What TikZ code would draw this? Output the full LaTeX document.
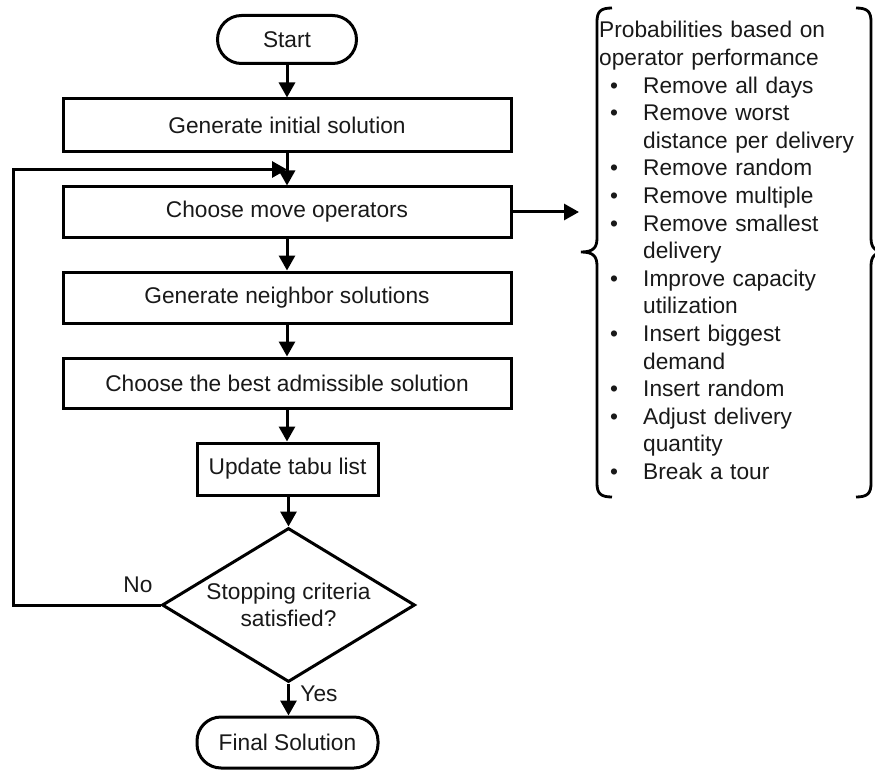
\documentclass[tikz,border=0pt]{standalone}
\usepackage{fontspec}
\setmainfont{Liberation Sans}
\usetikzlibrary{arrows.meta,shapes.geometric,calc}
\newcommand\bitem[1]{\makebox[44pt][l]{\hspace*{11pt}\textbullet}#1}
\newcommand\bcont[1]{\hspace*{44pt}#1}
\begin{document}
\begin{tikzpicture}[x=1pt,y=-1pt,
  every node/.style={font=\fontsize{22.7}{27.6}\selectfont, text=black!90},
  arr/.style={line width=3pt, draw=black, -{Triangle[length=15pt,width=16pt]}},
  procbox/.style={draw=black, line width=3pt, rectangle, inner sep=0pt, fill=white},
  term/.style={draw=black, line width=3pt, rectangle, rounded corners=24pt, inner sep=0pt, fill=white},
  decide/.style={draw=black, line width=3pt, diamond, aspect=1.64, inner sep=-12pt, minimum width=253pt, minimum height=154pt, align=center, fill=white},
  bracepath/.style={line width=2.8pt, draw=black},
  lbl/.style={font=\fontsize{22.7}{27.6}\selectfont}
]
\useasboundingbox (0,0) rectangle (875,770);

\node[term, minimum width=139pt, minimum height=48pt] (start) at (287,39.5) {Start};
\node[procbox, minimum width=448pt, minimum height=53pt] (gen) at (287,125.5) {Generate initial solution};
\node[procbox, minimum width=448pt, minimum height=50pt] (choose) at (287,212) {Choose move operators};
\node[procbox, minimum width=448pt, minimum height=51pt] (neigh) at (287,297.5) {Generate neighbor solutions};
\node[procbox, minimum width=448pt, minimum height=50pt] (best) at (287,383) {Choose the best admissible solution};
\node[procbox, minimum width=181pt, minimum height=52pt] (tabu) at (287.5,469) {Update tabu list};
\node[decide] (stop) at (288.5,605) {Stopping criteria\\satisfied?};
\node[term, minimum width=181pt, minimum height=51pt] (final) at (287.5,742.5) {Final Solution};

\coordinate (join) at ($(gen.south)!0.5!(choose.north)$);
\coordinate (loopbl) at (13,605);
\coordinate (looptl) at (13,169.5);
\coordinate (opsarrow) at (579,212);

\draw[arr] (start) -- (gen);
\draw[arr] (gen) -- (choose);
\draw[arr] (choose) -- (neigh);
\draw[arr] (neigh) -- (best);
\draw[arr] (best.south) -- (best.south |- tabu.north);
\draw[arr] (tabu.south -| stop.north) -- (stop.north);
\draw[arr] (stop.south) -- (stop.south |- final.north);
\draw[arr] (stop.west) -- (loopbl) -- (looptl) -- (join);
\draw[arr] (choose.east) -- (opsarrow);

\node[lbl] (no) at (138,585) {No};
\node[lbl] (yes) at (319,694) {Yes};

% braces
\draw[bracepath] (612,8) .. controls (600,8) and (597,12) .. (597,22) -- (597,238)
  .. controls (597,248) and (593,252) .. (581,252) .. controls (593,252) and (597,256) .. (597,266)
  -- (597,483) .. controls (597,493) and (600,497) .. (612,497);
\draw[bracepath] (856,8) .. controls (868,8) and (871,12) .. (871,22) -- (871,238)
  .. controls (871,248) and (875,252) .. (887,252) .. controls (875,252) and (871,256) .. (871,266)
  -- (871,483) .. controls (871,493) and (868,497) .. (856,497);

\node[anchor=base west, inner sep=0pt, text width=270pt, align=left] (ops) at (599,38) {%
Probabilities based on\\
operator performance\\
\bitem{Remove all days}\\
\bitem{Remove worst}\\
\bcont{distance per delivery}\\
\bitem{Remove random}\\
\bitem{Remove multiple}\\
\bitem{Remove smallest}\\
\bcont{delivery}\\
\bitem{Improve capacity}\\
\bcont{utilization}\\
\bitem{Insert biggest}\\
\bcont{demand}\\
\bitem{Insert random}\\
\bitem{Adjust delivery}\\
\bcont{quantity}\\
\bitem{Break a tour}};
\end{tikzpicture}
\end{document}
